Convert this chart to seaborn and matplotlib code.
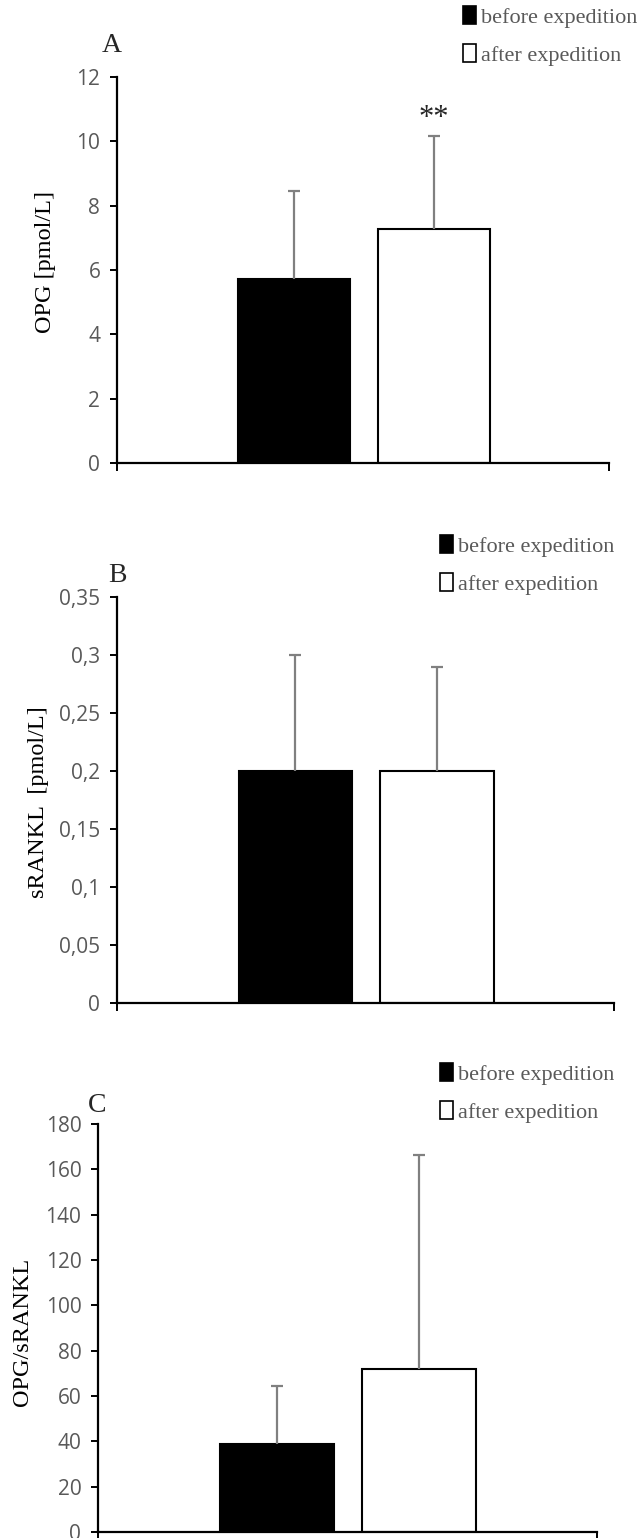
import pandas as pd
import matplotlib.pyplot as plt
import seaborn as sns
from matplotlib.patches import Patch

groups = ["before expedition", "after expedition"]
bar_colors = ["black", "white"]

opg_mean = [5.72, 7.27]
opg_sd = [2.74, 2.9]
opg_ticks = [0, 2, 4, 6, 8, 10, 12]
opg_ticklabels = ["0", "2", "4", "6", "8", "10", "12"]

rankl_mean = [0.2, 0.2]
rankl_sd = [0.1, 0.09]
rankl_ticks = [0, 0.05, 0.1, 0.15, 0.2, 0.25, 0.3, 0.35]
rankl_ticklabels = ["0", "0,05", "0,1", "0,15", "0,2", "0,25", "0,3", "0,35"]

ratio_mean = [38.8, 72.0]
ratio_sd = [25.8, 94.4]
ratio_ticks = [0, 20, 40, 60, 80, 100, 120, 140, 160, 180]
ratio_ticklabels = [str(t) for t in ratio_ticks]

sns.set_style("white")
plt.rcParams["font.family"] = ["Open Sans", "DejaVu Sans"]
serif = ["Liberation Serif", "DejaVu Serif"]
grey = "#595959"

W, H = 644, 1538
fig = plt.figure(figsize=(W / 100, H / 100), dpi=100)


def px_axes(x0, x1, y_top, y_bot):
    return fig.add_axes([x0 / W, 1 - y_bot / H, (x1 - x0) / W, (y_bot - y_top) / H])


panels = [
    dict(box=(117, 609, 77, 463), mean=opg_mean, sd=opg_sd, ticks=opg_ticks,
         labels=opg_ticklabels, ylabel="OPG [pmol/L]", ylab_pos=(-0.124, 0.52),
         letter="A", letter_xy=(112, 45), leg_top=(463, 6)),
    dict(box=(117, 614, 597, 1003), mean=rankl_mean, sd=rankl_sd, ticks=rankl_ticks,
         labels=rankl_ticklabels, ylabel="sRANKL  [pmol/L]", ylab_pos=(-0.137, 0.495),
         letter="B", letter_xy=(117, 575), leg_top=(440, 535)),
    dict(box=(98, 597, 1124, 1532), mean=ratio_mean, sd=ratio_sd, ticks=ratio_ticks,
         labels=ratio_ticklabels, ylabel="OPG/sRANKL", ylab_pos=(-0.13, 0.49),
         letter="C", letter_xy=(97, 1105), leg_top=(440, 1063)),
]

for p in panels:
    ax = px_axes(*p["box"])
    df = pd.DataFrame({"group": groups, "value": p["mean"]})
    sns.barplot(data=df, x="group", y="value", hue="group", order=groups,
                hue_order=groups, palette=bar_colors, edgecolor="black",
                linewidth=1.5, width=0.8, errorbar=None, legend=False, ax=ax)
    eb = ax.errorbar(x=[0, 1], y=p["mean"], yerr=[[0, 0], p["sd"]], fmt="none",
                     ecolor="#808080", elinewidth=1.6, capsize=4, capthick=1.6, zorder=3)
    for cap in eb[1]:
        if list(cap.get_ydata()) == list(p["mean"]):
            cap.set_visible(False)

    ax.set_xlim(-1.26, 2.25)
    ax.set_ylim(p["ticks"][0], p["ticks"][-1])
    ax.set_yticks(p["ticks"], p["labels"])
    ax.set_xticks([-1.26, 2.25], ["", ""])
    ax.set_xlabel("")
    ax.set_ylabel(p["ylabel"], family=serif, fontsize=17.5, color="black")
    ax.yaxis.set_label_coords(*p["ylab_pos"])
    sns.despine(ax=ax)
    for side in ["left", "bottom"]:
        ax.spines[side].set_color("black")
        ax.spines[side].set_linewidth(1.6)
    ax.tick_params(axis="y", direction="out", length=5, width=1.4, color="black",
                   labelsize=15, labelcolor=grey, pad=7, left=True)
    ax.tick_params(axis="x", direction="out", length=6, width=1.4, color="black", bottom=True)

    fig.text(p["letter_xy"][0] / W, 1 - p["letter_xy"][1] / H, p["letter"],
             family=serif, fontsize=20, ha="center", va="center")

    handles = [Patch(facecolor=c, edgecolor="black", linewidth=1.2) for c in bar_colors]
    fig.legend(handles, groups, loc="upper left",
               bbox_to_anchor=(p["leg_top"][0] / W, 1 - p["leg_top"][1] / H),
               frameon=False, prop={"family": serif, "size": 16}, labelcolor=grey,
               handlelength=0.6, handleheight=0.85, handletextpad=0.2,
               labelspacing=0.75, borderpad=0, borderaxespad=0)

ax0 = fig.axes[0]
ax0.text(1, opg_mean[1] + opg_sd[1] + 0.55, "**", ha="center", va="center",
         family=serif, fontsize=22)

fig.savefig("out.png", dpi=100)
